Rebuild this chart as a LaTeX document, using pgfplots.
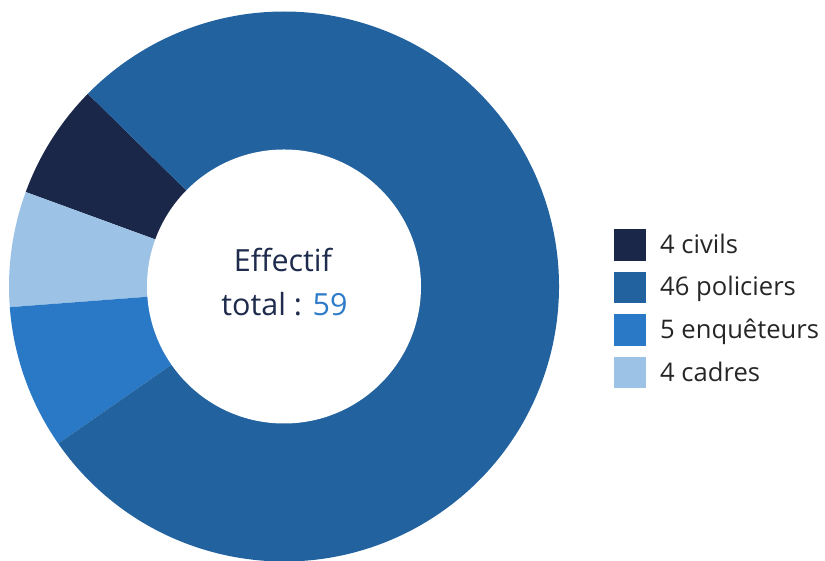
\documentclass[border=0pt]{standalone}
\usepackage{fontspec}
\setmainfont{Open Sans}
\usepackage{pgfplots}
\usepackage{pgfplotstable}
\pgfplotsset{compat=1.18}

\definecolor{cCiv}{HTML}{1B2749}
\definecolor{cPol}{HTML}{22629E}
\definecolor{cEnq}{HTML}{2A79C6}
\definecolor{cCad}{HTML}{9CC3E6}
\definecolor{centertext}{HTML}{1E2B4C}
\definecolor{totalblue}{HTML}{2E7BC9}
\definecolor{legtext}{HTML}{262626}

% effectifs, in drawing order (counter-clockwise from the civils slice)
\pgfplotstableread{
label value
civils 4
cadres 4
enqueteurs 5
policiers 46
}\donutdata

\begin{document}
\begin{tikzpicture}
\pgfplotstablegetelem{0}{value}\of\donutdata \let\vA\pgfplotsretval
\pgfplotstablegetelem{1}{value}\of\donutdata \let\vB\pgfplotsretval
\pgfplotstablegetelem{2}{value}\of\donutdata \let\vC\pgfplotsretval
\pgfplotstablegetelem{3}{value}\of\donutdata \let\vD\pgfplotsretval
\pgfmathsetmacro\total{\vA+\vB+\vC+\vD}
\pgfmathsetmacro\aA{135.5}
\pgfmathsetmacro\aB{\aA+360*\vA/\total}
\pgfmathsetmacro\aC{\aB+360*\vB/\total}
\pgfmathsetmacro\aD{\aC+360*\vC/\total}
\pgfmathsetmacro\aE{\aA+360}
\begin{axis}[
  x=1pt, y=1pt,
  xmin=0, xmax=825, ymin=0, ymax=561,
  hide axis, clip=false,
]
\path (axis cs:0,0) rectangle (axis cs:825,561);

% slices (overlay: arc control points must not enlarge the page)
\fill[cCiv, overlay] (axis cs:284,274.5) -- ++(\aA:275pt) arc[start angle=\aA, end angle=\aB, radius=275pt] -- cycle;
\fill[cCad, overlay] (axis cs:284,274.5) -- ++(\aB:275pt) arc[start angle=\aB, end angle=\aC, radius=275pt] -- cycle;
\fill[cEnq, overlay] (axis cs:284,274.5) -- ++(\aC:275pt) arc[start angle=\aC, end angle=\aD, radius=275pt] -- cycle;
\fill[cPol, overlay] (axis cs:284,274.5) -- ++(\aD:275pt) arc[start angle=\aD, end angle=\aE, radius=275pt] -- cycle;
\fill[white, overlay] (axis cs:284,274.5) circle[radius=137pt];

% centre label
\node[anchor=base, font=\fontsize{30.5}{36}\selectfont, text=centertext, inner sep=0pt]
  at (axis cs:283,289.3) {Effectif};
\node[anchor=base, font=\fontsize{30.5}{36}\selectfont, text=centertext, inner sep=0pt]
  at (axis cs:284.5,245.3) {total : \textcolor{totalblue}{59}};

% legend
\fill[cCiv] (axis cs:614,331.7) rectangle (axis cs:646,300.3);
\fill[cPol] (axis cs:614,289.1) rectangle (axis cs:646,257.7);
\fill[cEnq] (axis cs:614,246.5) rectangle (axis cs:646,215.1);
\fill[cCad] (axis cs:614,203.9) rectangle (axis cs:646,172.5);
\begin{scope}[every node/.style={anchor=base west, inner sep=0pt, text=legtext, font=\fontsize{25.6}{30}\selectfont}]
\node at (axis cs:660,307.7) {4 civils};
\node at (axis cs:660,265.0) {46 policiers};
\node at (axis cs:660,222.4) {5 enquêteurs};
\node at (axis cs:660,179.8) {4 cadres};
\end{scope}
\end{axis}
\end{tikzpicture}
\end{document}
